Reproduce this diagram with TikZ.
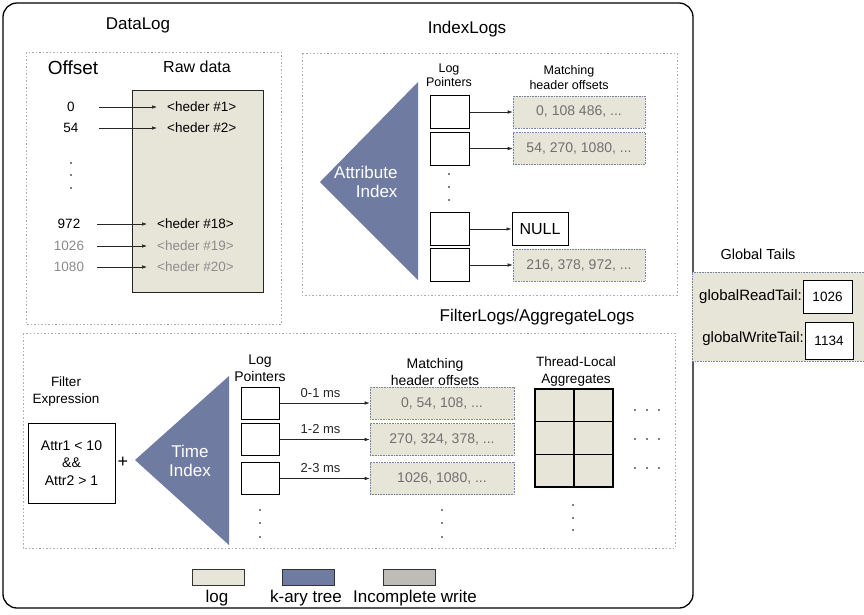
\documentclass[tikz,border=0pt]{standalone}
\usepackage{fontspec}
\setmainfont{Liberation Sans}
\usepackage{tikz}
\usetikzlibrary{arrows.meta}

\definecolor{logfill}{RGB}{231,228,216}
\definecolor{treefill}{RGB}{111,123,161}
\definecolor{partfill}{RGB}{190,188,182}
\definecolor{dimtext}{RGB}{112,112,112}
\definecolor{faintext}{RGB}{140,140,140}
\definecolor{edgeblue}{RGB}{120,130,165}

\tikzset{
	partname/.style={font=\fontsize{17}{19}\selectfont},
	section/.style={draw=gray!65, line width=0.6pt, dash pattern=on 1.5pt off 2pt},
	rawbox/.style={draw=black!85, line width=0.8pt, fill=logfill, inner sep=0},
	logbox/.style={draw=edgeblue, densely dotted, line width=0.6pt, fill=logfill, inner sep=0},
	ptrbox/.style={draw=black, line width=1pt, fill=white, inner sep=0, minimum width=39pt, minimum height=33pt},
	ptr/.style={-{Latex[length=5pt, width=3.5pt]}, line width=0.6pt, black!85},
	offnum/.style={font=\fontsize{13.5}{15}\selectfont, minimum width=56pt, inner sep=0},
	hdr/.style={font=\fontsize{13.5}{15}\selectfont, anchor=west, inner xsep=10pt},
	smalltext/.style={font=\fontsize{12.5}{14}\selectfont, align=center},
	midtext/.style={font=\fontsize{14}{17}\selectfont, align=center},
	offtext/.style={font=\fontsize{14}{16}\selectfont, text=dimtext},
	treetext/.style={font=\fontsize{17}{19}\selectfont, text=white},
	aggcell/.style={draw=black, line width=1.3pt, fill=logfill, inner sep=0, minimum width=39pt, minimum height=32.7pt},
	legbox/.style={draw=black!80, line width=0.9pt, inner sep=0, minimum width=52pt, minimum height=16pt},
	legtext/.style={font=\fontsize{17}{19}\selectfont, anchor=base},
	tailbox/.style={draw=black, line width=1pt, fill=white, inner sep=0, minimum width=49pt, font=\fontsize{13.5}{15}\selectfont},
	tailname/.style={font=\fontsize{15}{17}\selectfont, anchor=east, inner sep=1pt},
}

\begin{document}
\begin{tikzpicture}[x=1pt, y=-1pt]
	\useasboundingbox (0, 0) rectangle (864, 614);
	
	\draw[line width=1.3pt, rounded corners=14pt] (3, 3) rectangle (693, 608);
	
	% DataLog
	\node[partname] (dltitle) at (138, 25) {DataLog};
	\draw[section] (26, 52) rectangle (281, 324);
	\node[font=\fontsize{19}{21}\selectfont] (offset) at (73, 68) {Offset};
	\node[font=\fontsize{16}{18}\selectfont] (rawdata) at (197, 67) {Raw data};
	\node[rawbox, minimum width=131pt, minimum height=202pt] (raw) at (197.5, 191) {};
	
	\node[offnum] (o1) at (71, 107) {0};
	\node[offnum] (o2) at (71, 128) {54};
	\node[offnum] (o18) at (69, 224) {972};
	\node[offnum, text=faintext] (o19) at (69, 246) {1026};
	\node[offnum, text=faintext] (o20) at (69, 267) {1080};
	\foreach \y in {163, 175, 188}
		\fill (71, \y) circle (0.8pt);
	
	\node[hdr] (h1) at (157, 107) {<heder \#1>};
	\node[hdr] (h2) at (157, 128) {<heder \#2>};
	\node[hdr] (h18) at (147, 224) {<heder \#18>};
	\node[hdr, text=faintext] (h19) at (147, 246) {<heder \#19>};
	\node[hdr, text=faintext] (h20) at (147, 267) {<heder \#20>};
	
	\path[ptr] (o1) edge (h1);
	\path[ptr] (o2) edge (h2);
	\path[ptr] (o18) edge (h18);
	\path[ptr] (o19) edge (h19);
	\path[ptr] (o20) edge (h20);
	
	% IndexLogs
	\node[partname] (iltitle) at (467, 29) {IndexLogs};
	\draw[section] (302, 53) rectangle (677, 295);
	\fill[treefill] (320, 182) -- (418, 82) -- (418, 280) -- cycle;
	\node[treetext, align=right, anchor=east] (attr) at (401, 182) {Attribute\\Index};
	\node[smalltext] (ilptr) at (449, 75) {Log\\Pointers};
	\node[smalltext, font=\fontsize{12.5}{15}\selectfont] (iloff) at (569, 77.5) {Matching\\header offsets};
	
	\node[ptrbox] (ip1) at (449.5, 112) {};
	\node[ptrbox] (ip2) at (449.5, 148.5) {};
	\node[ptrbox] (ip3) at (449.5, 229) {};
	\node[ptrbox] (ip4) at (449.5, 265) {};
	\foreach \y in {174, 187, 200}
		\fill (449, \y) circle (0.8pt);
	
	\node[logbox, offtext, minimum width=132pt, minimum height=32pt] (io1) at (579, 112) {0, 108 486, ...};
	\node[logbox, offtext, minimum width=132pt, minimum height=32pt] (io2) at (579, 148.5) {54, 270, 1080, ...};
	\node[draw=black, line width=1pt, fill=white, minimum width=56pt, minimum height=33pt, inner sep=0, font=\fontsize{16}{18}\selectfont] (null) at (540, 229) {NULL};
	\node[logbox, offtext, minimum width=132pt, minimum height=32pt] (io4) at (579, 265) {216, 378, 972, ...};
	
	\path[ptr] (ip1) edge (io1);
	\path[ptr] (ip2) edge (io2);
	\path[ptr] (ip3) edge (null);
	\path[ptr] (ip4) edge (io4);
	
	% FilterLogs/AggregateLogs
	\node[partname] (fltitle) at (537, 317) {FilterLogs/AggregateLogs};
	\draw[section] (23, 333) rectangle (675, 548);
	\node[font=\fontsize{13.5}{17}\selectfont, align=center] (filtername) at (66, 391.5) {Filter\\Expression};
	\node[draw=black, line width=1pt, minimum width=87pt, minimum height=80pt, align=center, font=\fontsize{14}{17.5}\selectfont] (filter) at (71.5, 463) {Attr1 < 10\\\&\&\\Attr2 > 1};
	\node[font=\fontsize{18}{20}\selectfont] (plus) at (123, 462) {+};
	\fill[treefill] (135, 460) -- (229, 376) -- (229, 545) -- cycle;
	\node[treetext, align=center] (time) at (190, 461) {Time\\Index};
	\node[midtext] (flptr) at (260, 368.5) {Log\\Pointers};
	\node[midtext] (floff) at (435, 371.5) {Matching\\header offsets};
	\node[midtext, font=\fontsize{13.5}{17}\selectfont] (aggname) at (576, 371.5) {Thread-Local\\Aggregates};
	
	\node[ptrbox, minimum width=38pt, minimum height=32pt] (tp1) at (260, 403) {};
	\node[ptrbox, minimum width=38pt, minimum height=32pt] (tp2) at (260, 439.5) {};
	\node[ptrbox, minimum width=38pt, minimum height=32pt] (tp3) at (260, 478.5) {};
	
	\node[logbox, offtext, minimum width=144pt, minimum height=32pt] (tm1) at (442, 403) {0, 54, 108, ...};
	\node[logbox, offtext, minimum width=144pt, minimum height=32pt] (tm2) at (442, 439.5) {270, 324, 378, ...};
	\node[logbox, offtext, minimum width=144pt, minimum height=32pt] (tm3) at (442, 478.5) {1026, 1080, ...};
	
	\path[ptr] (tp1) edge node[above=2pt, xshift=-4pt, font=\fontsize{13}{15}\selectfont] {0-1 ms} (tm1);
	\path[ptr] (tp2) edge node[above=2pt, xshift=-4pt, font=\fontsize{13}{15}\selectfont] {1-2 ms} (tm2);
	\path[ptr] (tp3) edge node[above=2pt, xshift=-4pt, font=\fontsize{13}{15}\selectfont] {2-3 ms} (tm3);
	
	\foreach \c/\x in {1/554.5, 2/593.5}
		\foreach \r/\y in {1/405.3, 2/438, 3/470.7}
			\node[aggcell] (ag\r\c) at (\x, \y) {};
	
	\foreach \y in {510, 523, 537} {
		\fill (260, \y) circle (0.8pt);
		\fill (442, \y) circle (0.8pt);
	}
	\foreach \y in {505, 518, 530}
		\fill (573, \y) circle (0.8pt);
	\foreach \y in {410, 439, 468}
		\foreach \x in {635, 647, 659}
			\fill (\x, \y) circle (0.8pt);
	
	% legend
	\node[legbox, fill=logfill] (leglog) at (218, 577) {};
	\node[legbox, fill=treefill] (legtree) at (308.5, 577) {};
	\node[legbox, fill=partfill] (legpart) at (409.5, 577) {};
	\node[legtext] (leglogname) at (217, 602) {log};
	\node[legtext] (legtreename) at (306, 602) {k-ary tree};
	\node[legtext] (legpartname) at (415, 602) {Incomplete write};
	
	% Global Tails
	\node[font=\fontsize{14.5}{17}\selectfont] (gttitle) at (758, 254) {Global Tails};
	\fill[logfill] (692, 272) rectangle (864, 361);
	\draw[edgeblue, densely dotted, line width=0.6pt] (864, 272) -- (692, 272) -- (692, 361) -- (864, 361);
	\node[tailname] (grname) at (803, 297) {globalReadTail:};
	\node[tailbox, minimum height=33pt] (grtail) at (827.5, 296.5) {1026};
	\node[tailname] (gwname) at (805, 339) {globalWriteTail:};
	\node[tailbox, minimum width=48pt, minimum height=37pt] (gwtail) at (829, 340.5) {1134};
	
\end{tikzpicture}
\end{document}
